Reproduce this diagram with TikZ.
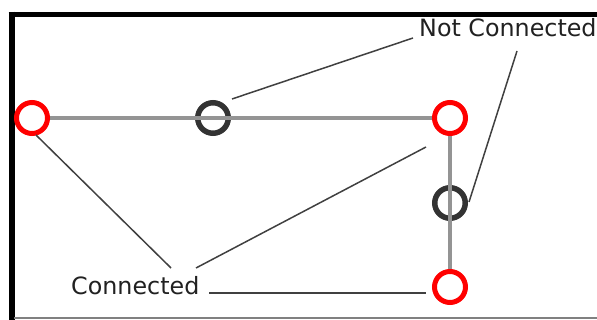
\documentclass[tikz,border=0pt]{standalone}
\usepackage{fontspec}
\setmainfont{DejaVu Sans}
\begin{document}
\begin{tikzpicture}[x=1pt,y=-1pt,
  redring/.style={circle,draw=red,line width=5pt,fill=white,minimum size=31pt,inner sep=0pt},
  darkring/.style={circle,draw=black!80,line width=5.5pt,minimum size=30.5pt,inner sep=0pt},
  wire/.style={draw=black!42,line width=4.5pt},
  leader/.style={draw=black!75,line width=1.5pt},
  label/.style={inner sep=0pt,anchor=base west,text=black!87,font=\fontsize{23.8}{28}\selectfont}
]
\useasboundingbox (0,0) rectangle (597,320);
% frame
\draw[line width=5pt] (8.5,14.2) -- (597,14.2);
\draw[line width=6pt] (11.5,11.7) -- (11.5,320);
\draw[black!50,line width=2pt] (14,318.5) -- (597,318.5);
% rings
\node[darkring] (b) at (213,118) {};
\node[darkring] (d) at (450,203) {};
\draw[wire] (32,118) coordinate (ac) -- (450,118) coordinate (cc);
\draw[wire] (cc) -- (450,287) coordinate (ec);
\node[redring] (a) at (ac) {};
\node[redring] (c) at (cc) {};
\node[redring] (e) at (ec) {};
% labels
\node[label] (nc) at (419,37) {Not Connected};
\node[label] (cn) at (71,295) {Connected};
% leaders
\coordinate (l1a) at (232,99);  \coordinate (l1b) at (413,38);
\coordinate (l2a) at (517,51);  \coordinate (l2b) at (469,202);
\coordinate (l3a) at (36,135);  \coordinate (l3b) at (171,268);
\coordinate (l4a) at (426,147); \coordinate (l4b) at (196,268);
\coordinate (l5a) at (209,293); \coordinate (l5b) at (426,293);
\draw[leader] (l1a) -- (l1b);
\draw[leader] (l2a) -- (l2b);
\draw[leader] (l3a) -- (l3b);
\draw[leader] (l4a) -- (l4b);
\draw[leader] (l5a) -- (l5b);
\end{tikzpicture}
\end{document}
